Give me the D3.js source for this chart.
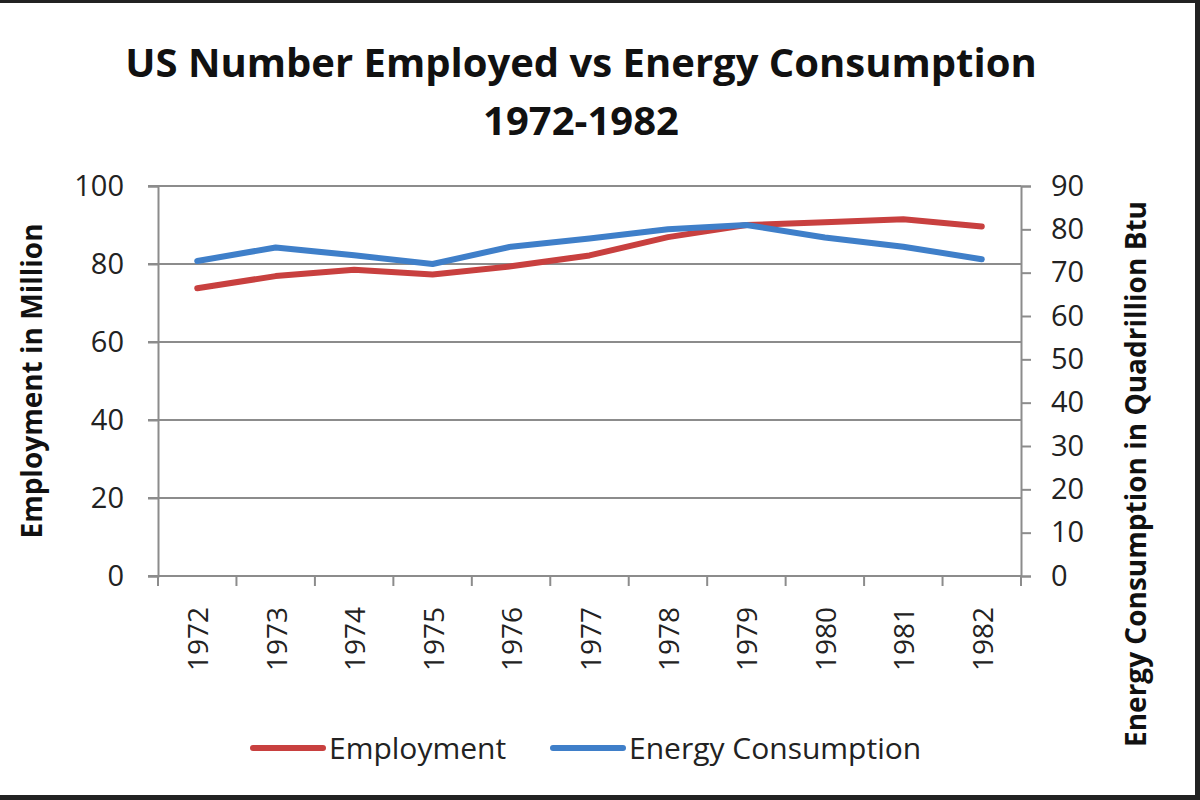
<!DOCTYPE html>
<html>
<head>
<meta charset="utf-8">
<script src="https://cdn.jsdelivr.net/npm/d3@7"></script>
<style>
  html, body { margin: 0; padding: 0; background: #fff; }
  svg { display: block; font-family: "Open Sans", sans-serif; }
</style>
</head>
<body>
<div id="chart"></div>
<script>
// US employment vs energy consumption, 1972-1982 — dual axis line chart.
var years = ['1972', '1973', '1974', '1975', '1976', '1977', '1978', '1979', '1980', '1981', '1982'];
var employment = [73.8, 76.9, 78.5, 77.3, 79.4, 82.2, 86.9, 90.0, 90.7, 91.5, 89.6];   // million
var energy = [72.7, 75.8, 74.0, 72.0, 76.0, 77.9, 80.0, 81.0, 78.1, 76.0, 73.1];       // quadrillion Btu
var leftTicks = [0, 20, 40, 60, 80, 100];
var rightTicks = [0, 10, 20, 30, 40, 50, 60, 70, 80, 90];

(function () {
  var W = 1200, H = 800;
  var plot = { left: 158, right: 1021, top: 186, bottom: 576 };
  var grid = '#8c8c8c', red = '#c8403f', blue = '#3f7fc9';

  var svg = d3.select('#chart').append('svg').attr('width', W).attr('height', H);
  svg.append('rect').attr('width', W).attr('height', H).attr('fill', '#fff');

  var x = d3.scaleBand().domain(years).range([plot.left, plot.right]).padding(0);
  var yL = d3.scaleLinear().domain([0, 100]).range([plot.bottom, plot.top]);
  var yR = d3.scaleLinear().domain([0, 90]).range([plot.bottom, plot.top]);

  // title
  var title = svg.append('text').attr('text-anchor', 'middle')
    .attr('font-weight', 'bold').attr('font-size', 40).attr('fill', '#111');
  title.append('tspan').attr('x', 581).attr('y', 77).text('US Number Employed vs Energy Consumption');
  title.append('tspan').attr('x', 581).attr('y', 135).text('1972-1982');

  // horizontal gridlines
  svg.append('g').selectAll('line').data(leftTicks.slice(1)).enter().append('line')
    .attr('x1', plot.left - 10).attr('x2', plot.right)
    .attr('y1', function (d) { return yL(d); }).attr('y2', function (d) { return yL(d); })
    .attr('stroke', grid).attr('stroke-width', 2);

  // left axis
  var gL = svg.append('g').attr('transform', 'translate(' + plot.left + ',0)')
    .call(d3.axisLeft(yL).tickValues(leftTicks).tickSize(10).tickPadding(24));
  // right axis
  var gR = svg.append('g').attr('transform', 'translate(' + plot.right + ',0)')
    .call(d3.axisRight(yR).tickValues(rightTicks).tickSize(10).tickPadding(20));
  [gL, gR].forEach(function (g) {
    g.select('.domain').attr('stroke', grid).attr('stroke-width', 2);
    g.selectAll('.tick line').attr('stroke', grid).attr('stroke-width', 2);
    g.selectAll('.tick text').attr('font-size', 29).attr('fill', '#222')
      .attr('font-family', '"Open Sans", sans-serif');
  });

  // bottom axis: baseline, boundary ticks, rotated labels
  svg.append('line').attr('x1', plot.left - 10).attr('x2', plot.right)
    .attr('y1', plot.bottom).attr('y2', plot.bottom).attr('stroke', grid).attr('stroke-width', 2);
  var bounds = years.map(function (y) { return x(y); }).concat([plot.right]);
  svg.append('g').selectAll('line').data(bounds).enter().append('line')
    .attr('x1', function (d) { return d; }).attr('x2', function (d) { return d; })
    .attr('y1', plot.bottom).attr('y2', plot.bottom + 10)
    .attr('stroke', grid).attr('stroke-width', 2);
  svg.append('g').selectAll('text').data(years).enter().append('text')
    .attr('transform', function (d) {
      return 'translate(' + (x(d) + x.bandwidth() / 2 + 11) + ',' + (plot.bottom + 31) + ') rotate(-90)';
    })
    .attr('text-anchor', 'end').attr('font-size', 28).attr('fill', '#222')
    .text(function (d) { return d; });

  // axis titles
  svg.append('text').attr('transform', 'translate(42,381) rotate(-90)')
    .attr('text-anchor', 'middle').attr('font-weight', 'bold').attr('font-size', 28).attr('fill', '#111')
    .text('Employment in Million');
  svg.append('text').attr('transform', 'translate(1146,474) rotate(-90)')
    .attr('text-anchor', 'middle').attr('font-weight', 'bold').attr('font-size', 28).attr('fill', '#111')
    .text('Energy Consumption in Quadrillion Btu');

  // series
  var cx = function (d, i) { return x(years[i]) + x.bandwidth() / 2; };
  var lineL = d3.line().x(cx).y(function (d) { return yL(d); });
  var lineR = d3.line().x(cx).y(function (d) { return yR(d); });
  svg.append('path').datum(employment).attr('d', lineL)
    .attr('fill', 'none').attr('stroke', red).attr('stroke-width', 6)
    .attr('stroke-linejoin', 'round').attr('stroke-linecap', 'round');
  svg.append('path').datum(energy).attr('d', lineR)
    .attr('fill', 'none').attr('stroke', blue).attr('stroke-width', 6)
    .attr('stroke-linejoin', 'round').attr('stroke-linecap', 'round');

  // legend
  var legend = [
    { name: 'Employment', color: red, x: 253 },
    { name: 'Energy Consumption', color: blue, x: 553 }
  ];
  var lg = svg.append('g').selectAll('g').data(legend).enter().append('g')
    .attr('transform', function (d) { return 'translate(' + d.x + ',748)'; });
  lg.append('line').attr('x1', 0).attr('x2', 70).attr('y1', 0).attr('y2', 0)
    .attr('stroke', function (d) { return d.color; }).attr('stroke-width', 6).attr('stroke-linecap', 'round');
  lg.append('text').attr('x', 76).attr('y', 11).attr('font-size', 30).attr('fill', '#222')
    .text(function (d) { return d.name; });

  // dark frame on top, right, bottom edges
  svg.append('rect').attr('x', 0).attr('y', 0).attr('width', W).attr('height', 3).attr('fill', '#222');
  svg.append('rect').attr('x', W - 5).attr('y', 0).attr('width', 5).attr('height', H).attr('fill', '#222');
  svg.append('rect').attr('x', 0).attr('y', H - 5).attr('width', W).attr('height', 5).attr('fill', '#222');
})();
</script>
</body>
</html>
